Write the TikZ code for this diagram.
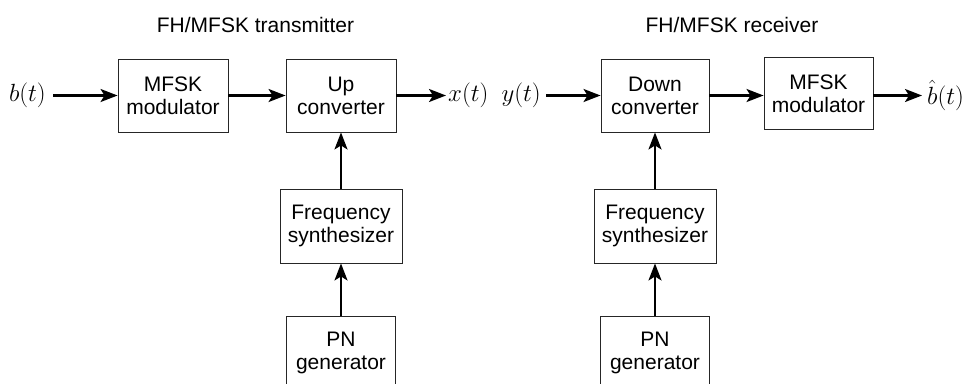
\documentclass[tikz,border=0pt]{standalone}
\usepackage{fontspec}
\setmainfont{Liberation Sans}
\usetikzlibrary{arrows.meta,calc}
\begin{document}
\begin{tikzpicture}[x=1pt,y=-1pt,
  blk/.style={draw=black!85,line width=0.9pt,inner sep=0pt,align=center,
    font=\fontsize{21}{23}\selectfont},
  sig/.style={inner sep=0pt,font=\fontsize{23}{25}\selectfont},
  ttl/.style={inner sep=0pt,font=\fontsize{21}{23}\selectfont},
  arr/.style={line width=2.2pt,-{Stealth[length=17pt,width=13pt,inset=4pt]}}]
\useasboundingbox (0,0) rectangle (964,383);
\clip (0,0) rectangle (964,383);
% titles
\node[ttl] (t1) at (255.5,24.5) {FH/MFSK transmitter};
\node[ttl] (t2) at (732,24.5) {FH/MFSK receiver};
% transmitter
\node[blk,minimum width=110pt,minimum height=73pt] (mod) at (173,95.5) {MFSK\\modulator};
\node[blk,minimum width=110pt,minimum height=73pt] (up) at (341,95.5) {Up\\converter};
\node[blk,minimum width=122pt,minimum height=74pt] (fs1) at (341,226) {Frequency\\synthesizer};
\node[blk,minimum width=109pt,minimum height=73pt] (pn1) at (341,352.5) {PN\\generator};
\node[sig,anchor=east] (b) at (46,95.5) {$b(t)$};
\node[sig,anchor=west] (x) at (448,95.5) {$x(t)$};
% receiver
\node[blk,minimum width=108pt,minimum height=73pt] (down) at (655,95.5) {Down\\converter};
\node[blk,minimum width=109pt,minimum height=72pt] (dem) at (818.5,93.5) {MFSK\\modulator};
\node[blk,minimum width=122pt,minimum height=74pt] (fs2) at (655,226) {Frequency\\synthesizer};
\node[blk,minimum width=109pt,minimum height=73pt] (pn2) at (655,352.5) {PN\\generator};
\node[sig,anchor=east] (y) at (541,95.5) {$y(t)$};
\node[sig,anchor=west] (bh) at (927,95.5) {$\hat{b}(t)$};
% connectors
\draw[arr] ($(b.east)+(7,0)$) -- (b.east -| mod.west);
\draw[arr] (mod.east) -- (up.west);
\draw[arr] (up.east) -- ($(up.east -| x.west)+(-2,0)$);
\draw[arr] (pn1.north) -- (fs1.south);
\draw[arr] (fs1.north) -- (up.south);
\draw[arr] ($(y.east)+(5,0)$) -- (y.east -| down.west);
\draw[arr] (down.east) -- (down.east -| dem.west);
\draw[arr] (down.east -| dem.east) -- ($(down.east -| bh.west)+(-5,0)$);
\draw[arr] (pn2.north) -- (fs2.south);
\draw[arr] (fs2.north) -- (down.south);
\end{tikzpicture}
\end{document}
